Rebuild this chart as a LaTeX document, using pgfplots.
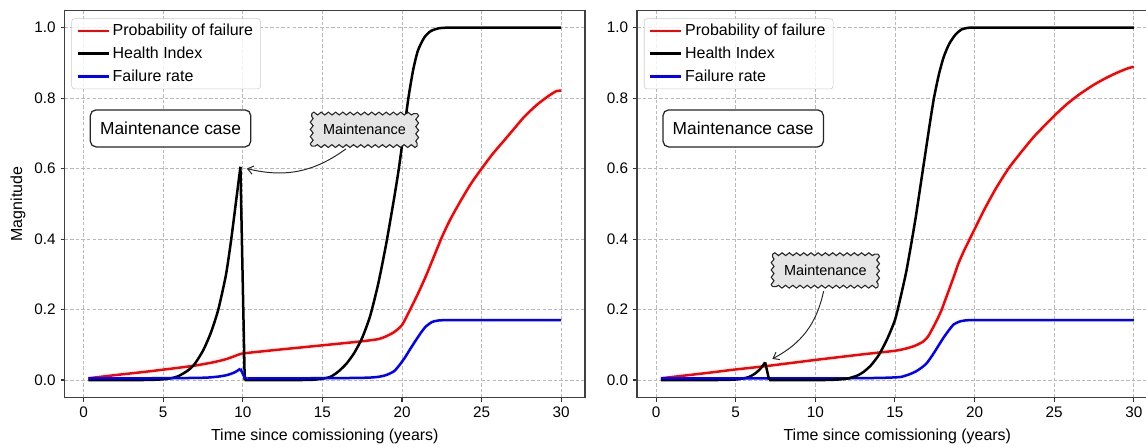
\documentclass[border=0pt]{standalone}
\usepackage{fontspec}
\setmainfont{Liberation Sans}
\usepackage{pgfplots}
\pgfplotsset{compat=1.18}
\usetikzlibrary{decorations.pathmorphing,arrows.meta}

\pgfplotsset{
 mystyle/.style={
  scale only axis, width=374.5pt, height=278.6pt,
  xmin=-1.185, xmax=31.485, ymin=-0.05, ymax=1.048,
  xtick={0,5,...,30}, ytick={0,0.2,0.4,0.6,0.8,1.0},
  yticklabels={0.0,0.2,0.4,0.6,0.8,1.0},
  grid=major, grid style={gray!55, line width=0.5pt, dash pattern=on 2.5pt off 1.5pt},
  axis line style={black!75, line width=1.1pt},
  tick align=outside, tick pos=left, major tick length=3pt,
  major tick style={black!80, line width=0.8pt},
  tick label style={font=\fontsize{11}{13}\selectfont},
  /pgf/number format/assume math mode=true,
  every axis x label/.style={at={(axis description cs:0.5,-0.112)}, anchor=base, font=\fontsize{11.5}{14}\selectfont},
  every axis y label/.style={at={(axis description cs:-0.082,0.5)}, rotate=90, anchor=base, font=\fontsize{11.5}{14}\selectfont},
  xlabel={Time since comissioning (years)},
  legend style={at={(axis description cs:0.0129,0.980)}, anchor=north west,
    draw=black!20, fill=white, fill opacity=0.8, text opacity=1, rounded corners=2pt,
    font=\fontsize{11.5}{13.8}\selectfont, row sep=2.5pt, inner xsep=3.5pt, inner ysep=2pt},
  legend cell align=left,
  legend image code/.code={\draw[#1, line width=2pt] (0pt,0pt) -- (22pt,0pt);},
  curve/.style={line width=1.8pt, smooth, tension=0.4},
 },
}
\tikzset{
 casebox/.style={draw=black!85, fill=white, rounded corners=4pt, line width=0.9pt,
   inner xsep=7pt, minimum height=26.6pt, font=\fontsize{12.5}{15}\selectfont},
 maintbox/.style={fill=gray!20, inner xsep=8pt, minimum height=23pt,
   font=\fontsize{10.4}{12}\selectfont},
 wav/.style={draw=black!85, line width=0.8pt, decorate,
   decoration={snake, amplitude=1pt, segment length=5.2pt}},
 annarrow/.style={black!85, line width=0.7pt, -{Straight Barb[length=4pt,width=6pt]}},
}
\newcommand\wavybox[1]{%
  \draw[wav] (#1.north west) -- (#1.north east);
  \draw[wav] (#1.north east) -- (#1.south east);
  \draw[wav] (#1.south east) -- (#1.south west);
  \draw[wav] (#1.south west) -- (#1.north west);
}

\begin{document}
\begin{tikzpicture}
% ---------------- left axis ----------------
\begin{axis}[mystyle, at={(46.6pt,35.5pt)}, anchor=south west, ylabel={Magnitude}]
\addplot[red, curve] table {
0.3 0.005
2 0.014
4 0.024
6 0.035
7 0.041
8 0.049
8.5 0.054
9 0.060
9.5 0.068
9.85 0.074
10.3 0.077
12 0.085
14 0.094
16 0.103
17.5 0.110
18.5 0.116
19.0 0.124
19.5 0.136
20.0 0.156
20.5 0.199
21.0 0.245
21.5 0.295
22.0 0.350
22.5 0.405
23.0 0.453
23.6 0.502
24.3 0.555
25.0 0.600
25.7 0.642
26.4 0.679
27.0 0.711
27.7 0.748
28.5 0.782
29.2 0.806
29.7 0.820
30 0.821
};
\addlegendentry{Probability of failure}
\addplot[black, curve] table {
0.3 0
1.5 0
2.7 0
3.6 0
4.3 0.0005
4.8 0.0015
5.2 0.003
5.6 0.006
6.0 0.012
6.58 0.028
7.0 0.047
7.52 0.085
8.0 0.135
8.46 0.200
8.94 0.298
9.26 0.395
9.57 0.505
9.85 0.605
};
\addlegendentry{Health Index}
\addplot[blue, curve] table {
0.3 0.005
2 0.005
4 0.005
6 0.0055
7.0 0.006
7.8 0.007
8.5 0.010
9.0 0.014
9.4 0.020
9.65 0.026
9.85 0.032
};
\addlegendentry{Failure rate}
\addplot[black, line width=1.8pt, forget plot] table {
9.85 0.605
10.12 0.0
};
\addplot[black, curve, forget plot] table {
10.12 0
11.3 0
12.5 0
13.5 0
14.3 0.0005
14.9 0.003
15.5 0.009
16.0 0.024
16.5 0.046
17.0 0.077
17.5 0.120
18.0 0.182
18.5 0.272
19.0 0.385
19.5 0.515
19.8 0.600
20.1 0.700
20.4 0.800
20.7 0.880
21.0 0.935
21.4 0.972
21.8 0.990
22.3 0.998
22.9 1.0
23.7 1.0
24.7 1.0
26 1.0
28 1.0
30 1.0
};
\addplot[blue, line width=1.8pt, forget plot] table {
9.85 0.032
10.12 0.006
10.3 0.005
};
\addplot[blue, curve, forget plot] table {
10.3 0.005
12 0.005
14 0.005
16 0.0055
17.2 0.006
18.0 0.007
18.5 0.009
19.0 0.014
19.5 0.025
19.85 0.043
20.2 0.065
20.5 0.087
20.9 0.115
21.2 0.135
21.5 0.152
21.9 0.165
22.3 0.169
22.8 0.170
23.5 0.170
24.5 0.170
26 0.170
28 0.170
30 0.170
};
\node[casebox] at (axis cs:5.46,0.714) {Maintenance case};
\node[maintbox] (m1) at (axis cs:17.64,0.71) {Maintenance};
\wavybox{m1}
\draw[annarrow] (axis cs:16.48,0.656) to[bend left=25] (axis cs:10.25,0.600);
\end{axis}
% ---------------- right axis ----------------
\begin{axis}[mystyle, at={(458.8pt,35.5pt)}, anchor=south west]
\addplot[red, curve] table {
0.3 0.005
3 0.019
5 0.030
7 0.040
10 0.057
13 0.073
15 0.083
15.75 0.090
16.3 0.098
16.8 0.110
17.1 0.125
17.42 0.151
17.7 0.176
17.94 0.200
18.2 0.232
18.47 0.265
18.75 0.300
18.99 0.331
19.35 0.368
19.72 0.402
20.1 0.437
20.56 0.479
21.0 0.516
21.4 0.548
22.13 0.600
22.9 0.645
23.7 0.689
24.4 0.722
25.06 0.752
25.8 0.783
26.63 0.812
27.5 0.838
28.3 0.858
29.0 0.873
29.6 0.884
30 0.889
};
\addlegendentry{Probability of failure}
\addplot[black, curve] table {
0.3 0
1.5 0
2.7 0
3.7 0
4.5 0.0005
5.0 0.0015
5.4 0.004
5.8 0.008
6.2 0.018
6.55 0.032
6.85 0.050
};
\addlegendentry{Health Index}
\addplot[blue, curve] table {
0.3 0.005
2.5 0.005
5 0.005
7.5 0.005
10 0.005
12 0.005
13.3 0.0055
14.3 0.0063
15.0 0.0075
15.4 0.009
15.9 0.016
16.3 0.024
16.7 0.036
17.0 0.048
17.35 0.070
17.7 0.095
18.05 0.120
18.4 0.142
18.7 0.158
19.06 0.166
19.4 0.169
19.75 0.170
20.4 0.170
21.3 0.170
23 0.170
26 0.170
30 0.170
};
\addlegendentry{Failure rate}
\addplot[black, line width=1.8pt, forget plot] table {
6.85 0.050
7.1 0
};
\addplot[black, curve, forget plot] table {
7.1 0
8.3 0
9.5 0
10.5 0
11.3 0.001
12.0 0.004
12.6 0.012
13.0 0.022
13.5 0.042
14.0 0.072
14.5 0.115
15.0 0.170
15.33 0.230
15.7 0.305
16.0 0.380
16.3 0.460
16.6 0.550
16.9 0.640
17.2 0.730
17.45 0.800
17.75 0.865
18.05 0.915
18.4 0.953
18.8 0.980
19.2 0.995
19.7 1.0
20.4 1.0
21.4 1.0
23 1.0
26 1.0
30 1.0
};
\node[casebox] at (axis cs:5.47,0.714) {Maintenance case};
\node[maintbox] (m2) at (axis cs:10.63,0.311) {Maintenance};
\wavybox{m2}
\draw[annarrow] (axis cs:10.52,0.252) to[bend left=25] (axis cs:7.3,0.060);
\end{axis}
\pgfresetboundingbox
\useasboundingbox (0,0) rectangle (825.1pt,321.8pt);
\end{tikzpicture}
\end{document}
